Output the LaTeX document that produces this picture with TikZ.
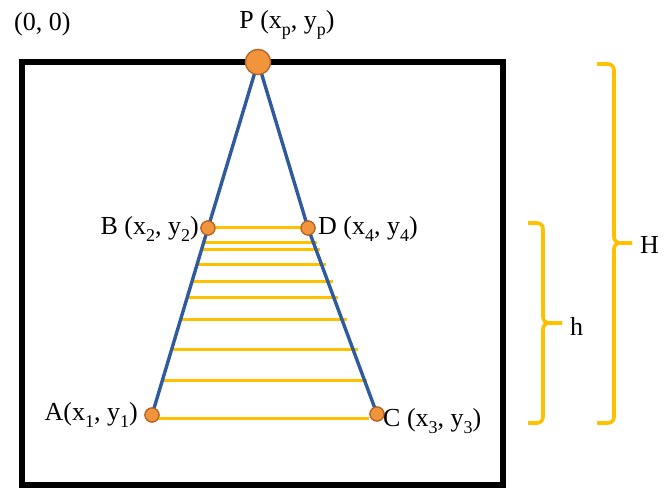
\documentclass[tikz,border=0pt]{standalone}
\usepackage{fontspec}
\setmainfont{Liberation Serif}
\usetikzlibrary{calc}
\definecolor{lineblue}{HTML}{2F5B9C}
\definecolor{gold}{HTML}{FFC000}
\definecolor{ptfill}{HTML}{F2943C}
\definecolor{ptdraw}{HTML}{B8692A}
\newcommand{\sbx}[1]{\raisebox{-0.28em}{\fontsize{18}{19}\selectfont #1}}
\tikzset{
  frame/.style={draw=black, line width=5.5pt},
  side/.style={draw=lineblue, line width=3.4pt},
  rung/.style={draw=gold, line width=3pt},
  brace/.style={draw=gold, line width=3.6pt, rounded corners=6pt},
  bigpt/.style={circle, fill=ptfill, draw=ptdraw, line width=1.3pt, inner sep=0pt, minimum size=25pt},
  smallpt/.style={circle, fill=ptfill, draw=ptdraw, line width=1.3pt, inner sep=0pt, minimum size=14pt},
  lbl/.style={font=\fontsize{26}{30}\selectfont, inner sep=0pt}
}
\begin{document}
\begin{tikzpicture}[x=1pt,y=-1pt]
\useasboundingbox (0,0) rectangle (672,489);
\coordinate (TL) at (22,62);
\coordinate (BR) at (503,485);
\draw[frame] (TL) rectangle (BR);
% points
\node[bigpt] (P) at (258,62) {};
\node[smallpt] (B) at (208,228) {};
\node[smallpt] (D) at (308,228) {};
\node[smallpt] (A) at (152,415) {};
\node[smallpt] (C) at (377,414) {};
% rungs
\draw[rung] (B.center) -- (D.center);
\foreach \t/\e [count=\i] in {0.075/4, 0.117/4, 0.195/5, 0.287/5, 0.369/5, 0.487/5, 0.652/5, 0.818/3}{
  \coordinate (L\i) at ($(B.center)!\t!(A.center)$);
  \coordinate (R\i) at ($(D.center)!\t!(C.center)+(\e,0)$);
  \draw[rung] (L\i) -- (R\i |- L\i);
}
\coordinate (Lb) at ($(A.center)+(4,3.5)$);
\coordinate (Rb) at ($(C.center)+(-8,4.5)$);
\draw[rung] (Lb) -- (Rb |- Lb);
% sides
\draw[side] (P.center) -- (B.center) -- (A.center);
\draw[side] (P.center) -- (D.center) -- (C.center);
% redraw points on top
\node[bigpt] at (P) {};
\node[smallpt] at (B) {};
\node[smallpt] at (D) {};
\node[smallpt] at (A) {};
\node[smallpt] at (C) {};
% labels
\node[lbl, anchor=west] (origin) at (14,24) {(0, 0)};
\node[lbl] (Plbl) at (287,25) {P (x\sbx{p}, y\sbx{p})};
\node[lbl, anchor=east] (Blbl) at (199,229) {B (x\sbx{2}, y\sbx{2})};
\node[lbl, anchor=west] (Dlbl) at (318,229) {D (x\sbx{4}, y\sbx{4})};
\node[lbl, anchor=east] (Albl) at (138,415) {A(x\sbx{1}, y\sbx{1})};
\node[lbl, anchor=west] (Clbl) at (383,421) {C (x\sbx{3}, y\sbx{3})};
% braces
\coordinate (hT) at (528,223);
\coordinate (hM) at (562,323);
\coordinate (hB) at (528,423);
\draw[brace] (hT) -- (543,223) -- (543,323) -- (hM);
\draw[brace] (hM) -- (543,323) -- (543,423) -- (hB);
\node[lbl, anchor=west] (hlbl) at (570,326) {h};
\coordinate (HT) at (597,64);
\coordinate (HM) at (632,243);
\coordinate (HB) at (597,423);
\draw[brace] (HT) -- (614,64) -- (614,243) -- (HM);
\draw[brace] (HM) -- (614,243) -- (614,423) -- (HB);
\node[lbl, anchor=west] (Hlbl) at (640,245) {H};
\end{tikzpicture}
\end{document}
